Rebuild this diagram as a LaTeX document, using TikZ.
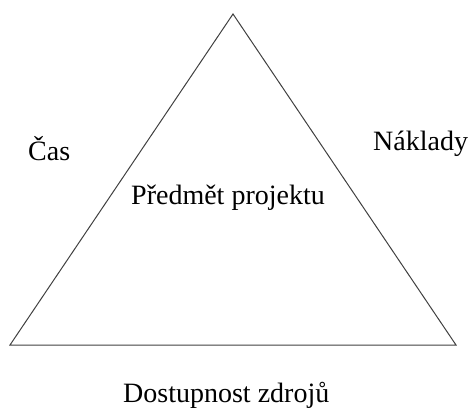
\documentclass[tikz,border=0pt]{standalone}
\usepackage{fontspec}
\setmainfont{Liberation Serif}
\begin{document}
\begin{tikzpicture}[x=1pt,y=-1pt,
  lbl/.style={anchor=base west,inner sep=0pt,font=\fontsize{28}{32}\selectfont},
  edge/.style={draw=black!75,line width=1pt,line join=miter}]
\useasboundingbox (0,0) rectangle (470,410);
\coordinate (top) at (233,14);
\coordinate (bl) at (10,345);
\coordinate (br) at (456,345);
\draw[edge] (top) -- (br) -- (bl) -- cycle;
\node[lbl] (cas) at (28,160) {Čas};
\node[lbl] (naklady) at (373,150) {Náklady};
\node[lbl] (predmet) at (131,204) {Předmět projektu};
\node[lbl] (dostupnost) at (123,402) {Dostupnost zdrojů};
\end{tikzpicture}
\end{document}
